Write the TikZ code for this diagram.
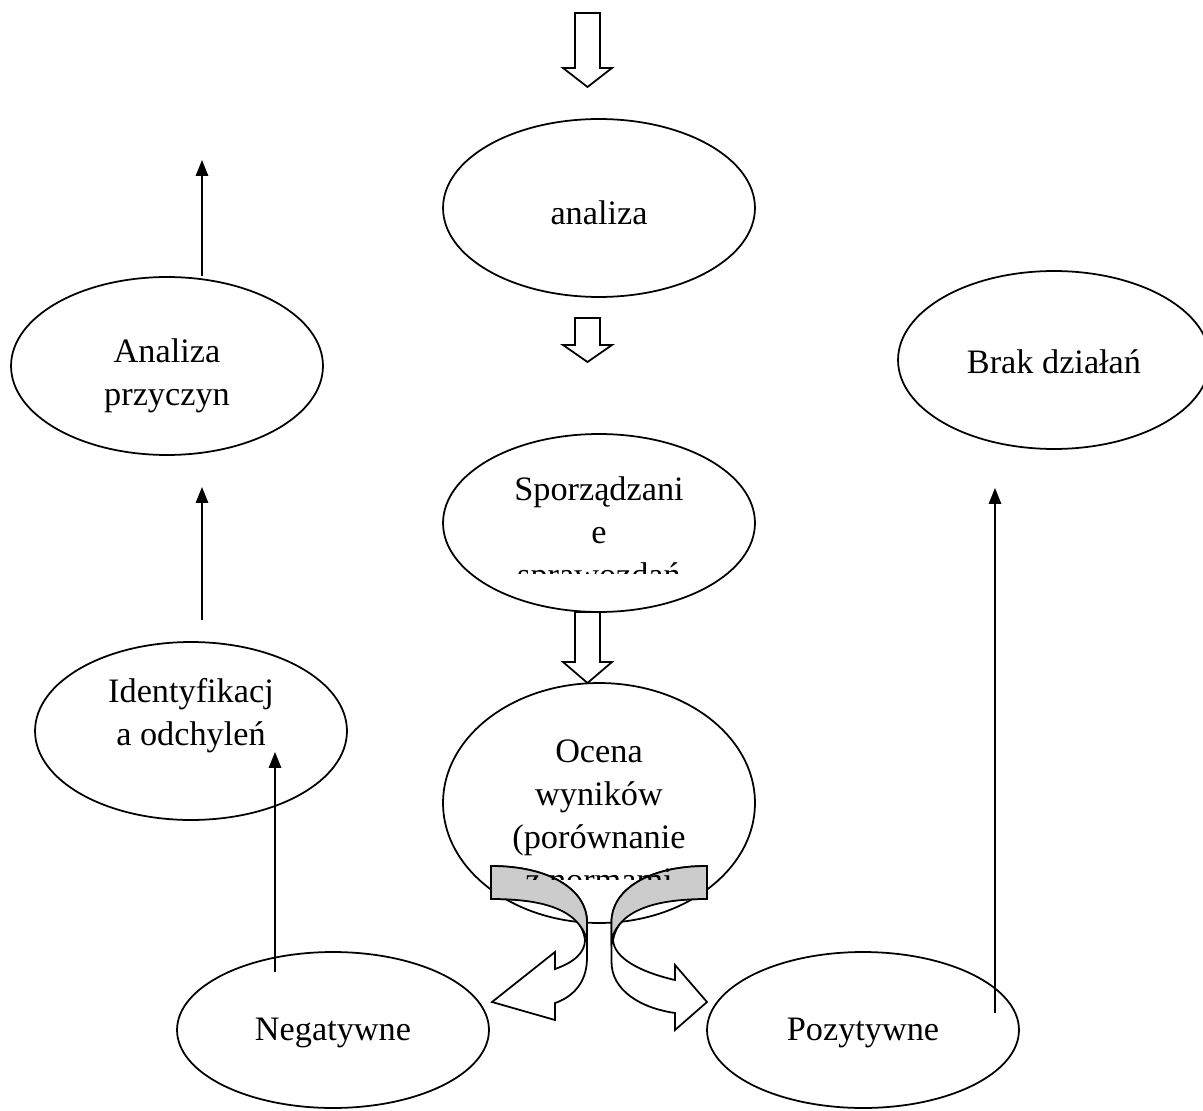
\documentclass[tikz,border=0pt]{standalone}
\usepackage{fontspec}
\setmainfont{Liberation Serif}
\usetikzlibrary{shapes.geometric,arrows.meta}

\tikzset{
	elipsa/.style={draw,ellipse,line width=1pt,inner sep=0pt,minimum width=6.24cm,minimum height=3.56cm},
	tekst/.style={align=center,inner sep=0pt,font=\fontsize{19.5pt}{24.4pt}\selectfont},
	strzalka/.style={-{Triangle[length=9pt,width=7pt]},line width=1pt},
	blok/.style={draw,fill=white,line width=1pt},
	wstega/.style={draw,fill=gray!40,line width=1pt},
}

\begin{document}
\begin{tikzpicture}[x=0.02cm,y=-0.02cm]
	\useasboundingbox (0,0) rectangle (1203,1111);
	% elipsy
	\node[elipsa] (analiza) at (599,208) {};
	\node[elipsa] (sprawozdania) at (599,523) {};
	\node[elipsa,minimum height=4.8cm] (ocena) at (599,803) {};
	\node[elipsa] (przyczyny) at (167,366) {};
	\node[elipsa] (odchylenia) at (191,731) {};
	\node[elipsa] (brak) at (1054,360) {};
	\node[elipsa,minimum height=3.12cm] (negatywne) at (333,1030) {};
	\node[elipsa,minimum height=3.12cm] (pozytywne) at (863,1030) {};
	% teksty
	\node[tekst] (analizaT) at (599,213) {analiza};
	\node[tekst] (przyczynyT) at (167,376) {Analiza\\przyczyn};
	\node[tekst] (odchyleniaT) at (191,716) {Identyfikacj\\a odchyleń};
	\node[tekst] (brakT) at (1054,362) {Brak działań};
	\node[tekst] (negatywneT) at (333,1033) {Negatywne};
	\node[tekst] (pozytywneT) at (863,1033) {Pozytywne};
	\begin{scope}
		\clip (443,435) rectangle (755,573);
		\node[tekst] (sprawozdaniaT) at (599,535) {Sporządzani\\e\\sprawozdań};
	\end{scope}
	% strzalki blokowe
	\foreach \g/\s/\k in {13/68/87, 318/345/362, 612/662/683}
		\draw[blok] (575,\g) -- (600,\g) -- (600,\s) -- (612,\s) -- (587.5,\k) -- (563,\s) -- (575,\s) -- cycle;
	% strzalki cienkie
	\coordinate (p1) at (202,276); \coordinate (k1) at (202,160);
	\coordinate (p2) at (202,620); \coordinate (k2) at (202,487);
	\coordinate (p3) at (275,972); \coordinate (k3) at (275,752);
	\coordinate (p4) at (995,1013); \coordinate (k4) at (995,488);
	\draw[strzalka] (p1) -- (k1);
	\draw[strzalka] (p2) -- (k2);
	\draw[strzalka] (p3) -- (k3);
	\draw[strzalka] (p4) -- (k4);
	% zakrzywione strzalki
	\draw[blok] (491,866) .. controls (550,866) and (587,890) .. (587,922) -- (587,958)
		.. controls (587,985) and (570,998) .. (555,1003) -- (555,1020) -- (492,1002) -- (555,952) -- (555,969)
		.. controls (575,962) and (585,952) .. (585,940) .. controls (580,905) and (540,899) .. (491,899) -- cycle;
	\draw[wstega] (491,866) .. controls (550,866) and (587,890) .. (587,922) -- (587,940)
		.. controls (578,908) and (540,899) .. (491,899) -- cycle;
	\draw[blok] (707,866) .. controls (648,866) and (611.5,890) .. (611.5,922) -- (611.5,962)
		.. controls (611.5,990) and (640,1008) .. (675,1013) -- (675,1030) -- (707,1002) -- (675,965) -- (675,980)
		.. controls (640,972) and (614,958) .. (613,940) .. controls (620,905) and (660,899) .. (707,899) -- cycle;
	\draw[wstega] (707,866) .. controls (648,866) and (611.5,890) .. (611.5,922) -- (611.5,940)
		.. controls (620,908) and (660,899) .. (707,899) -- cycle;
	\begin{scope}
		\clip (443,683) rectangle (755,879);
		\node[tekst] (ocenaT) at (599,816) {Ocena\\wyników\\(porównanie\\z normami};
	\end{scope}
\end{tikzpicture}
\end{document}
